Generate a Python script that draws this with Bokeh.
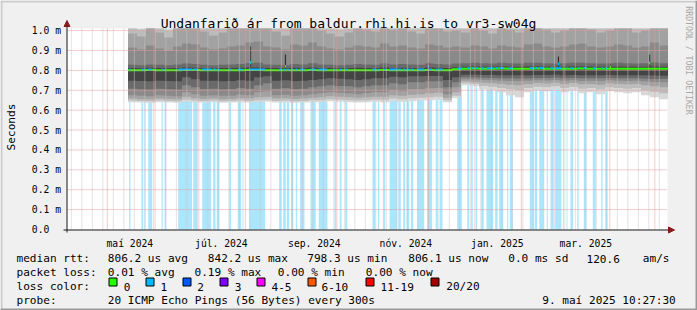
import numpy as np
import pandas as pd
from bokeh.plotting import figure
from bokeh.models import Range1d, Label, BoxAnnotation, Arrow, NormalHead
from bokeh.embed import file_html
from bokeh.resources import INLINE

# ---------------- time frame (SmokePing "last 400 days" view) ----------------
GRAPH_END = pd.Timestamp("2025-05-09 10:27:30")
GRAPH_DAYS = 400
GRAPH_START = GRAPH_END - pd.Timedelta(days=GRAPH_DAYS)


def day(ts):
    return (pd.Timestamp(ts) - GRAPH_START) / pd.Timedelta(days=1)


# ---------------- axis data ----------------
y_ticks = [0.0, 0.1, 0.2, 0.3, 0.4, 0.5, 0.6, 0.7, 0.8, 0.9, 1.0]
y_tick_labels = ["0.0\u00a0\u00a0", "0.1 m", "0.2 m", "0.3 m", "0.4 m", "0.5 m",
                 "0.6 m", "0.7 m", "0.8 m", "0.9 m", "1.0 m"]
month_label_dates = ["2024-05-16", "2024-07-16", "2024-09-16", "2024-11-16", "2025-01-16", "2025-03-16"]
month_labels = ["maí 2024", "júl. 2024", "sep. 2024", "nóv. 2024", "jan. 2025", "mar. 2025"]
month_grid_first, month_grid_last = "2024-05-01", "2025-05-01"
week_grid_first, week_grid_last = "2024-04-07", "2025-05-04"

# ---------------- smoke (ping distribution) in ms, 6-day bins ----------------
SMOKE_FIRST = "2024-05-14 18:27:30"
SMOKE_BIN_DAYS = 6
lo1 = [0.640, 0.638, 0.637, 0.640, 0.638, 0.637, 0.642, 0.640, 0.638, 0.640, 0.637, 0.638,
       0.640, 0.638, 0.640, 0.642, 0.638, 0.640, 0.637, 0.638, 0.640, 0.640, 0.645, 0.642,
       0.640, 0.638, 0.640, 0.642, 0.640, 0.645, 0.642, 0.645, 0.648, 0.650, 0.652, 0.640,
       0.660, 0.725, 0.720, 0.705, 0.700, 0.690, 0.675, 0.665, 0.690, 0.700, 0.695, 0.705,
       0.690, 0.700, 0.685, 0.690, 0.680, 0.695, 0.690, 0.685, 0.690, 0.675, 0.665, 0.655]
lo2 = [0.648, 0.646, 0.645, 0.648, 0.646, 0.645, 0.652, 0.648, 0.646, 0.648, 0.645, 0.646,
       0.648, 0.646, 0.650, 0.652, 0.646, 0.648, 0.645, 0.646, 0.650, 0.650, 0.655, 0.652,
       0.650, 0.648, 0.650, 0.652, 0.652, 0.658, 0.655, 0.660, 0.662, 0.665, 0.668, 0.650,
       0.672, 0.735, 0.732, 0.722, 0.718, 0.712, 0.705, 0.700, 0.712, 0.718, 0.715, 0.720,
       0.712, 0.718, 0.708, 0.712, 0.705, 0.715, 0.712, 0.708, 0.712, 0.700, 0.692, 0.685]
lo3 = [0.658, 0.655, 0.655, 0.658, 0.656, 0.655, 0.668, 0.660, 0.656, 0.658, 0.655, 0.656,
       0.660, 0.658, 0.665, 0.668, 0.658, 0.660, 0.656, 0.658, 0.662, 0.665, 0.670, 0.668,
       0.665, 0.662, 0.665, 0.668, 0.668, 0.675, 0.672, 0.678, 0.680, 0.685, 0.688, 0.662,
       0.690, 0.745, 0.742, 0.738, 0.735, 0.732, 0.728, 0.725, 0.732, 0.736, 0.734, 0.738,
       0.732, 0.736, 0.730, 0.732, 0.728, 0.735, 0.732, 0.730, 0.732, 0.725, 0.720, 0.715]
lo4 = [0.675, 0.672, 0.670, 0.675, 0.672, 0.670, 0.690, 0.680, 0.672, 0.675, 0.672, 0.672,
       0.678, 0.675, 0.690, 0.695, 0.675, 0.678, 0.672, 0.675, 0.680, 0.685, 0.690, 0.688,
       0.685, 0.680, 0.685, 0.690, 0.690, 0.700, 0.695, 0.705, 0.705, 0.710, 0.712, 0.680,
       0.715, 0.755, 0.754, 0.752, 0.750, 0.748, 0.746, 0.745, 0.748, 0.750, 0.749, 0.752,
       0.748, 0.750, 0.746, 0.748, 0.746, 0.750, 0.748, 0.747, 0.748, 0.744, 0.742, 0.740]
lo5 = [0.708, 0.705, 0.704, 0.708, 0.705, 0.704, 0.725, 0.715, 0.706, 0.708, 0.705, 0.706,
       0.712, 0.708, 0.725, 0.735, 0.708, 0.712, 0.706, 0.708, 0.715, 0.720, 0.725, 0.722,
       0.720, 0.715, 0.720, 0.725, 0.725, 0.735, 0.730, 0.740, 0.740, 0.745, 0.745, 0.715,
       0.740, 0.765, 0.764, 0.763, 0.762, 0.761, 0.760, 0.759, 0.761, 0.762, 0.762, 0.763,
       0.761, 0.762, 0.760, 0.761, 0.760, 0.762, 0.761, 0.760, 0.761, 0.758, 0.757, 0.756]
lo6 = [0.748, 0.746, 0.745, 0.748, 0.746, 0.745, 0.765, 0.755, 0.748, 0.748, 0.745, 0.746,
       0.750, 0.748, 0.765, 0.770, 0.748, 0.750, 0.746, 0.748, 0.752, 0.755, 0.760, 0.758,
       0.755, 0.752, 0.755, 0.760, 0.760, 0.768, 0.765, 0.770, 0.770, 0.772, 0.772, 0.752,
       0.765, 0.778, 0.778, 0.777, 0.777, 0.776, 0.776, 0.775, 0.776, 0.777, 0.777, 0.778,
       0.776, 0.777, 0.776, 0.776, 0.775, 0.777, 0.776, 0.776, 0.776, 0.775, 0.774, 0.773]
median = [0.801, 0.801, 0.802, 0.801, 0.800, 0.801, 0.802, 0.802, 0.801, 0.801, 0.800, 0.801,
          0.801, 0.802, 0.802, 0.801, 0.801, 0.800, 0.801, 0.801, 0.802, 0.801, 0.801, 0.800,
          0.801, 0.801, 0.801, 0.801, 0.802, 0.801, 0.801, 0.801, 0.801, 0.802, 0.801, 0.801,
          0.806, 0.808, 0.809, 0.808, 0.808, 0.809, 0.808, 0.808, 0.808, 0.809, 0.808, 0.808,
          0.808, 0.808, 0.809, 0.808, 0.808, 0.808, 0.808, 0.808, 0.808, 0.808, 0.808, 0.808]
hi6 = [0.812, 0.811, 0.813, 0.812, 0.811, 0.812, 0.814, 0.813, 0.812, 0.811, 0.812, 0.812,
       0.813, 0.814, 0.815, 0.812, 0.812, 0.811, 0.813, 0.812, 0.814, 0.812, 0.812, 0.811,
       0.812, 0.813, 0.812, 0.812, 0.814, 0.812, 0.813, 0.812, 0.812, 0.814, 0.813, 0.812,
       0.816, 0.818, 0.819, 0.818, 0.818, 0.819, 0.818, 0.818, 0.819, 0.819, 0.818, 0.818,
       0.818, 0.819, 0.819, 0.818, 0.818, 0.818, 0.819, 0.818, 0.818, 0.818, 0.819, 0.818]
hi5 = [0.828, 0.826, 0.830, 0.828, 0.826, 0.830, 0.834, 0.832, 0.828, 0.826, 0.828, 0.830,
       0.832, 0.836, 0.838, 0.830, 0.828, 0.826, 0.832, 0.830, 0.836, 0.830, 0.828, 0.826,
       0.828, 0.832, 0.830, 0.828, 0.834, 0.830, 0.832, 0.830, 0.828, 0.834, 0.832, 0.830,
       0.834, 0.836, 0.838, 0.836, 0.835, 0.838, 0.836, 0.835, 0.838, 0.838, 0.836, 0.835,
       0.836, 0.838, 0.838, 0.836, 0.835, 0.836, 0.838, 0.836, 0.835, 0.836, 0.840, 0.836]
hi4 = [0.915, 0.905, 0.925, 0.910, 0.900, 0.920, 0.935, 0.930, 0.915, 0.905, 0.910, 0.920,
       0.925, 0.940, 0.945, 0.920, 0.915, 0.905, 0.930, 0.925, 0.940, 0.920, 0.910, 0.905,
       0.915, 0.925, 0.920, 0.915, 0.935, 0.920, 0.925, 0.915, 0.910, 0.930, 0.925, 0.915,
       0.920, 0.915, 0.925, 0.920, 0.910, 0.925, 0.920, 0.915, 0.930, 0.935, 0.920, 0.915,
       0.920, 0.930, 0.935, 0.920, 0.915, 0.920, 0.930, 0.925, 0.915, 0.920, 0.940, 0.925]
hi3 = [0.985, 0.970, 1.010, 0.990, 0.965, 1.020, 1.040, 1.030, 0.995, 0.975, 0.990, 1.010,
       1.020, 1.050, 1.050, 1.010, 0.995, 0.975, 1.030, 1.020, 1.050, 1.000, 0.985, 0.970,
       0.990, 1.020, 1.005, 0.995, 1.040, 1.005, 1.020, 0.995, 0.985, 1.030, 1.020, 0.995,
       1.000, 0.990, 1.010, 1.000, 0.985, 1.015, 1.005, 0.990, 1.030, 1.040, 1.005, 0.990,
       1.000, 1.030, 1.040, 1.005, 0.990, 1.000, 1.030, 1.015, 0.990, 1.000, 1.050, 1.010]
hi2 = [1.030, 1.005, 1.060, 1.040, 1.000, 1.070, 1.090, 1.080, 1.040, 1.010, 1.030, 1.060,
       1.070, 1.100, 1.100, 1.060, 1.040, 1.010, 1.080, 1.070, 1.100, 1.050, 1.030, 1.005,
       1.030, 1.070, 1.050, 1.040, 1.090, 1.050, 1.070, 1.040, 1.030, 1.080, 1.070, 1.040,
       1.050, 1.030, 1.060, 1.050, 1.030, 1.060, 1.050, 1.030, 1.080, 1.090, 1.050, 1.030,
       1.050, 1.080, 1.090, 1.050, 1.030, 1.050, 1.080, 1.060, 1.030, 1.050, 1.100, 1.060]
hi1 = [1.25, 1.20, 1.30, 1.28, 1.18, 1.35, 1.40, 1.38, 1.28, 1.22, 1.26, 1.32,
       1.35, 1.45, 1.45, 1.32, 1.28, 1.22, 1.38, 1.35, 1.45, 1.30, 1.26, 1.20,
       1.26, 1.35, 1.30, 1.28, 1.40, 1.30, 1.35, 1.28, 1.26, 1.38, 1.35, 1.28,
       1.30, 1.26, 1.32, 1.30, 1.26, 1.32, 1.30, 1.26, 1.38, 1.40, 1.30, 1.26,
       1.30, 1.38, 1.40, 1.30, 1.26, 1.30, 1.38, 1.32, 1.26, 1.30, 1.45, 1.32]

# single-step median spikes (day in graph, median ms, top of dark core ms, lost pings)
spike_day = [122.0, 145.3, 240.7, 327.3, 362.0, 388.1]
spike_median = [0.840, 0.820, 0.820, 0.832, 0.816, 0.836]
spike_top = [0.920, 0.880, 0.840, 0.870, 0.830, 0.880]
spike_loss = [1, 0, 1, 1, 0, 0]

# periods with 1/20 packet loss (days in graph)
loss_from = [41.1, 49.3, 51.3, 53.8, 62.7, 64.7, 73.8, 83.8, 89.8, 97.1, 99.5, 107.8, 113.5,
             116.7, 121.1, 141.1, 143.8, 146.2, 149.5, 152.2, 155.1, 162.0, 167.5, 178.0,
             181.5, 185.1, 203.3, 206.9, 210.9, 214.7, 220.5, 223.8, 226.0, 228.9, 233.1,
             239.8, 245.5, 248.2, 259.8, 266.5, 269.1, 272.2, 275.8, 279.3, 285.1, 287.8,
             293.1, 294.9, 308.2, 311.5, 314.5, 319.5, 322.0, 325.1, 332.7, 335.3, 339.8,
             344.2, 350.2, 355.8, 358.5]
loss_to = [42.0, 50.5, 52.0, 56.5, 63.5, 65.8, 83.1, 86.5, 95.8, 98.7, 101.3, 109.1, 115.8,
           117.3, 131.8, 142.5, 145.5, 147.8, 150.5, 153.1, 158.0, 165.5, 173.3, 179.1,
           182.7, 186.5, 205.3, 207.8, 211.8, 219.8, 222.2, 225.1, 227.8, 230.5, 237.8,
           243.1, 246.9, 250.0, 262.9, 267.8, 270.2, 273.1, 277.5, 283.8, 286.7, 290.5,
           293.8, 296.9, 310.9, 313.1, 317.5, 320.2, 324.2, 329.3, 333.3, 337.1, 340.7,
           346.0, 352.2, 356.7, 360.0]

# ---------------- legend texts ----------------
title_text = "Undanfarið ár from baldur.rhi.hi.is to vr3-sw04g"
stat_rtt = ["median rtt:", "806.2 us avg", "842.2 us max", "798.3 us min", "806.1 us now",
            "0.0 ms sd", "120.6", "am/s"]
stat_loss = ["packet loss:", "0.01 % avg", "0.19 % max", "0.00 % min", "0.00 % now"]
loss_names = ["0", "1", "2", "3", "4-5", "6-10", "11-19", "20/20"]
loss_colors = ["#26ff00", "#00b8ff", "#0059ff", "#7e00ff", "#ff00ff", "#ff5a00", "#ff0000", "#a10000"]
probe_text = ["probe:", "20 ICMP Echo Pings (56 Bytes) every 300s", "9. maí 2025 10:27:30"]

# ---------------- layout / style constants ----------------
W, H = 697, 310
PLOT_L, PLOT_T, PLOT_W, PLOT_H = 67, 28, 600, 201   # rrdtool graph canvas, in image pixels
PLOT_B = PLOT_T + PLOT_H
YMAX = 1.0105                                        # ms at the top of the graph canvas
PX_DAY = PLOT_W / GRAPH_DAYS
PX_MS = PLOT_H / YMAX
SMOKE_COLORS = ["#d8d8d8", "#bcbcbc", "#a2a2a2", "#8a8a8a", "#6a6a6a", "#444444"]
LOSS_BG = "#abe6fd"
GRID_C, MGRID_C = "#c6c6c6", "#e49a9a"
AXIS_C, ARROW_C = "#1a1a1a", "#8b1a1a"
MONO = "DejaVu Sans Mono"

# whole image is the frame; ranges put the rrdtool canvas at its pixel place
p = figure(width=W, height=H, output_backend="svg", toolbar_location=None,
           x_axis_type=None, y_axis_type=None,
           x_range=Range1d(-PLOT_L / PX_DAY, (W - PLOT_L) / PX_DAY),
           y_range=Range1d(-(H - PLOT_B) / PX_MS, PLOT_B / PX_MS),
           min_border=0)
p.min_border_left = p.min_border_right = p.min_border_top = p.min_border_bottom = 0
p.background_fill_color = "#f0f0f0"
p.border_fill_color = "#f0f0f0"
p.outline_line_color = None
p.xgrid.visible = False
p.ygrid.visible = False


def sx(cx):
    return cx


def sy(cy):
    return H - cy


# white graph canvas
p.add_layout(BoxAnnotation(left=0, right=GRAPH_DAYS, bottom=0, top=YMAX, fill_color="#ffffff",
                           fill_alpha=1, line_color=None, level="underlay"))

# loss background bars
p.quad(left=loss_from, right=loss_to, bottom=0, top=YMAX, fill_color=LOSS_BG, line_color=None)

# smoke bands (clipped at graph top like rrdtool does)
bins = pd.date_range(SMOKE_FIRST, periods=len(median), freq=f"{SMOKE_BIN_DAYS}D")
b_left = np.array([day(t) for t in bins])
b_right = b_left + SMOKE_BIN_DAYS
bands = [(lo1, hi1), (lo2, hi2), (lo3, hi3), (lo4, hi4), (lo5, hi5), (lo6, hi6)]
for (lo, hi), col in zip(bands, SMOKE_COLORS):
    p.quad(left=b_left, right=b_right, bottom=np.minimum(lo, YMAX), top=np.minimum(hi, YMAX),
           fill_color=col, line_color=None)

# spikes: dark core
sd = np.array(spike_day)
p.quad(left=sd - 0.4, right=sd + 0.4, bottom=0.80, top=spike_top, fill_color="#303030", line_color=None)

# median line (0 loss = green), loss periods overdrawn in loss colour
med_x = np.append(b_left, b_right[-1])
med_y = list(median) + [median[-1]]
p.step(med_x, med_y, mode="after", line_color=loss_colors[0], line_width=2)
mid = (np.array(loss_from) + np.array(loss_to)) / 2
idx = np.clip(((mid - b_left[0]) // SMOKE_BIN_DAYS).astype(int), 0, len(median) - 1)
my = np.array(median)[idx] + 0.003
p.segment(x0=loss_from, x1=loss_to, y0=my, y1=my, line_color=loss_colors[1], line_width=2)
p.quad(left=sd - 0.4, right=sd + 0.4, bottom=np.array(spike_median) - 0.007,
       top=np.array(spike_median) + 0.007,
       fill_color=[loss_colors[l] for l in spike_loss], line_color=None)

# grid lines on top of the graph (rrdtool style)
week_days = np.array([day(t) for t in pd.date_range(week_grid_first, week_grid_last, freq="7D")])
month_days = np.array([day(t) for t in pd.date_range(month_grid_first, month_grid_last, freq="MS")])
p.segment(x0=week_days, x1=week_days, y0=0, y1=YMAX, line_color=GRID_C, line_width=1, line_dash="1 1")
p.segment(x0=month_days, x1=month_days, y0=0, y1=YMAX, line_color=MGRID_C, line_width=1, line_dash="1 1")
yt = np.array(y_ticks[1:])
p.segment(x0=0, x1=GRAPH_DAYS, y0=yt, y1=yt, line_color=MGRID_C, line_width=1, line_dash="1 1")

# axes with arrows
p.add_layout(Arrow(x_start=sx(63), y_start=sy(229.5), x_end=sx(674), y_end=sy(229.5),
                   start_units="screen", end_units="screen", line_color=AXIS_C, line_width=1,
                   end=NormalHead(size=6, fill_color=ARROW_C, line_color=ARROW_C)))
p.add_layout(Arrow(x_start=sx(66.5), y_start=sy(232), x_end=sx(66.5), y_end=sy(20),
                   start_units="screen", end_units="screen", line_color=AXIS_C, line_width=1,
                   end=NormalHead(size=6, fill_color=ARROW_C, line_color=ARROW_C)))


def text(s, x, y, size="11.1px", align="left", baseline="alphabetic", angle=0.0, color="#000000",
         xu="screen", yu="screen"):
    p.add_layout(Label(x=x, y=y, x_units=xu, y_units=yu, text=s,
                       text_font=MONO, text_font_size=size, text_color=color,
                       text_align=align, text_baseline=baseline, angle=angle))


# tick labels through the data scales
for d, lab in zip(month_label_dates, month_labels):
    text(lab, day(d), sy(242.5), size="9.7px", align="center", xu="data")
for v, lab in zip(y_ticks, y_tick_labels):
    text(lab, sx(60.5), v, size="9.7px", align="right", baseline="middle", yu="data")

# image frame shading
for (x0, y0, x1, y1, c) in [(0, 1, W, 1, "#cbcbcb"), (1, 0, 1, H, "#cbcbcb"),
                            (0, H - 1, W, H - 1, "#999999"), (W - 1, 0, W - 1, H, "#999999")]:
    p.add_layout(Arrow(x_start=sx(x0), y_start=sy(y0), x_end=sx(x1), y_end=sy(y1), end=None,
                       start_units="screen", end_units="screen", line_color=c, line_width=2))

text(title_text, sx(348), sy(23), size="13px", align="center")
text("Seconds", sx(11), sy(126.5), align="center", baseline="middle", angle=np.pi / 2)
text("RRDTOOL / TOBI OETIKER", sx(688), sy(60), size="8.2px", align="center", baseline="middle",
     angle=-np.pi / 2, color="#a8a8a8")

for s, cx in zip(stat_rtt, [16, 107.3, 207.3, 306.7, 407.7, 507.7, 586, 642.3]):
    text(s, sx(cx), sy(258))
for s, cx in zip(stat_loss, [16, 107.3, 194, 277.3, 365.3]):
    text(s, sx(cx), sy(272))
text("loss color:", sx(16), sy(286))
box_x = [108.5, 145.5, 182.5, 219.5, 256.5, 307.5, 365.5, 430.5]
lab_x = [123.3, 160, 196.7, 234.3, 271, 321, 380, 445.7]
for name, col, bx, lx in zip(loss_names, loss_colors, box_x, lab_x):
    p.add_layout(BoxAnnotation(left=sx(bx), right=sx(bx + 8), top=sy(277.5), bottom=sy(285.5),
                               left_units="screen", right_units="screen", top_units="screen",
                               bottom_units="screen", fill_color=col, fill_alpha=1,
                               line_color="#000000", line_alpha=1, line_width=1))
    text(name, sx(lx), sy(286))
for s, cx in zip(probe_text, [16, 107.3, 541.7]):
    text(s, sx(cx), sy(299.5))

open("out.html", "w").write(file_html(p, INLINE))
